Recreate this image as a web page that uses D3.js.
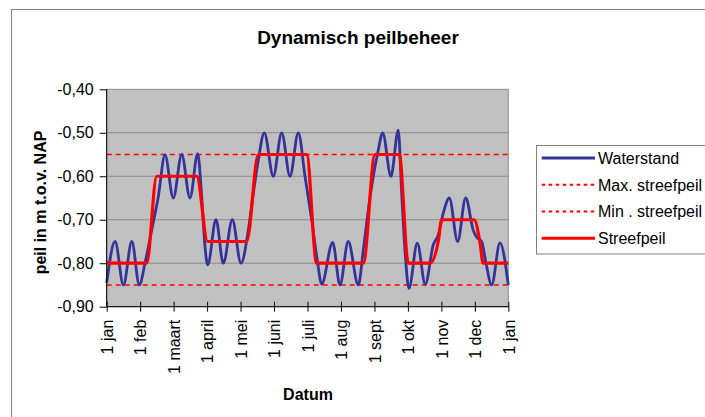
<!DOCTYPE html>
<html><head><meta charset="utf-8">
<script src="https://cdn.jsdelivr.net/npm/d3@7"></script>
<style>body{margin:0;background:#fff;} svg{display:block;font-family:"Liberation Sans",Arial,sans-serif;}</style>
</head><body>
<svg id="chart" width="705" height="417"></svg>
<script>
const monthLabels = ["1 jan","1 feb","1 maart","1 april","1 mei","1 juni","1 juli","1 aug","1 sept","1 okt","1 nov","1 dec","1 jan"];
const yTicks = [-0.40,-0.50,-0.60,-0.70,-0.80,-0.90];
const maxStreefpeil = -0.55;
const minStreefpeil = -0.85;
// [month index, value]
const waterstand = [
 [0,-0.845],[0.25,-0.75],[0.50,-0.85],[0.75,-0.75],[0.975,-0.85],
 [1.144,-0.80],[1.344,-0.724],[1.542,-0.647],[1.742,-0.551],
 [1.99,-0.65],[2.241,-0.55],[2.489,-0.65],[2.719,-0.548],
 [2.838,-0.647],[2.937,-0.762],[3.018,-0.804],
 [3.266,-0.70],[3.484,-0.80],[3.753,-0.70],[4.013,-0.80],
 [4.231,-0.724],[4.38,-0.64],[4.53,-0.563],[4.709,-0.50],
 [4.978,-0.60],[5.229,-0.50],[5.477,-0.60],[5.725,-0.50],
 [5.925,-0.60],[6.125,-0.70],[6.292,-0.793],[6.424,-0.848],
 [6.752,-0.752],[6.97,-0.85],[7.218,-0.75],[7.517,-0.85],
 [7.667,-0.77],[7.816,-0.678],[7.966,-0.60],[8.115,-0.54],[8.246,-0.50],
 [8.494,-0.60],[8.712,-0.494],
 [8.814,-0.639],[8.912,-0.77],[9.032,-0.858],
 [9.28,-0.754],[9.519,-0.848],
 [9.758,-0.758],[9.907,-0.735],[10.057,-0.685],[10.236,-0.65],
 [10.487,-0.75],[10.726,-0.65],
 [10.953,-0.724],[11.055,-0.74],[11.204,-0.75],[11.333,-0.80],
 [11.503,-0.85],[11.751,-0.753],[12,-0.85]
];
const streefpeil = [
 [0,-0.80],[1.195,-0.80],[1.494,-0.60],[2.689,-0.60],[3.018,-0.75],
 [4.183,-0.75],[4.53,-0.55],[5.975,-0.55],[6.274,-0.80],[7.667,-0.80],
 [8.016,-0.55],[8.742,-0.55],[9.011,-0.80],[9.66,-0.80],[9.907,-0.75],
 [10.01,-0.70],[10.98,-0.70],[11.15,-0.75],[11.25,-0.80],[12,-0.80]
];

const svg = d3.select("#chart");
const L = 106.7, R = 508.3, T = 89.3, B = 306.7;
const x = d3.scaleLinear().domain([0,12]).range([L,R]);
const y = d3.scaleLinear().domain([-0.90,-0.40]).range([B,T]);
const fmt = v => d3.format(".2f")(v).replace(".", ",").replace("−","-");

// outer frame
svg.append("rect").attr("x",11.5).attr("y",9.5).attr("width",720).attr("height",420)
  .attr("fill","none").attr("stroke","#808080").attr("stroke-width",1);

// title
svg.append("text").attr("x",358).attr("y",44).attr("text-anchor","middle")
  .attr("font-size",19).attr("font-weight","bold").text("Dynamisch peilbeheer");

// plot area
svg.append("rect").attr("x",L).attr("y",T).attr("width",R-L).attr("height",B-T)
  .attr("fill","#c0c0c0").attr("stroke","#8c8c8c").attr("stroke-width",1);

// gridlines
svg.append("g").selectAll("line").data(yTicks.slice(1,-1)).join("line")
  .attr("x1",L).attr("x2",R).attr("y1",d=>y(d)).attr("y2",d=>y(d))
  .attr("stroke","#8c8c8c").attr("stroke-width",1);

// max/min dashed
[maxStreefpeil,minStreefpeil].forEach(v=>{
  svg.append("line").attr("x1",L).attr("x2",R).attr("y1",y(v)).attr("y2",y(v))
    .attr("stroke","#ff0000").attr("stroke-width",1.6).attr("stroke-dasharray","5,4");
});

const line = d3.line().x(d=>x(d[0])).y(d=>y(d[1])).curve(d3.curveMonotoneX);
svg.append("path").datum(waterstand).attr("d",line).attr("fill","none")
  .attr("stroke","#333399").attr("stroke-width",2.8).attr("stroke-linejoin","round");
svg.append("path").datum(streefpeil).attr("d",line).attr("fill","none")
  .attr("stroke","#ff0000").attr("stroke-width",3.2).attr("stroke-linejoin","round");

// y axis
const yAxis = d3.axisLeft(y).tickValues(yTicks).tickFormat(fmt).tickSize(7).tickPadding(6);
const gy = svg.append("g").attr("transform",`translate(${L},0)`).call(yAxis);
gy.select(".domain").attr("stroke","#000").attr("d",`M0,${T}V${B}`);
gy.selectAll(".tick line").attr("stroke","#000");
gy.selectAll(".tick text").attr("font-size",16).attr("font-family","Liberation Sans, Arial, sans-serif").attr("fill","#000");

// x axis
const xAxis = d3.axisBottom(x).tickValues(d3.range(0,13)).tickFormat(i=>monthLabels[i]).tickSize(5);
const gx = svg.append("g").attr("transform",`translate(0,${B})`).call(xAxis);
gx.select(".domain").attr("stroke","#000").attr("d",`M${L},0H${R}`);
gx.selectAll(".tick line").attr("stroke","#000").attr("y1",-5).attr("y2",5);
gx.selectAll(".tick text").attr("font-size",16).attr("font-family","Liberation Sans, Arial, sans-serif").attr("fill","#000")
  .attr("text-anchor","end").attr("transform","translate(0,13) rotate(-90)")
  .attr("x",0).attr("y",0).attr("dy","0.36em");

// axis titles
svg.append("text").attr("x",308).attr("y",400).attr("text-anchor","middle")
  .attr("font-size",16).attr("font-weight","bold").text("Datum");
svg.append("text").attr("transform","translate(40,202.5) rotate(-90)").attr("text-anchor","middle")
  .attr("dy","0.36em").attr("font-size",16).attr("font-weight","bold").text("peil in m t.o.v. NAP");

// legend
const lg = svg.append("g");
lg.append("rect").attr("x",536.5).attr("y",145.5).attr("width",200).attr("height",108.5)
  .attr("fill","#fff").attr("stroke","#808080").attr("stroke-width",1);
const legendItems = [
  {name:"Waterstand", color:"#333399", dash:null, w:2.8},
  {name:"Max. streefpeil", color:"#ff0000", dash:"3.5,3.5", w:2},
  {name:"Min . streefpeil", color:"#ff0000", dash:"3.5,3.5", w:2},
  {name:"Streefpeil", color:"#ff0000", dash:null, w:3}
];
const ly = d3.scaleLinear().domain([0,3]).range([158,238.3]);
legendItems.forEach((it,i)=>{
  const l = lg.append("line").attr("x1",541.7).attr("x2",595).attr("y1",ly(i)).attr("y2",ly(i))
    .attr("stroke",it.color).attr("stroke-width",it.w);
  if(it.dash) l.attr("stroke-dasharray",it.dash);
  lg.append("text").attr("x",598).attr("y",ly(i)).attr("dy","0.36em").attr("font-size",16).text(it.name);
});
</script>
</body></html>
